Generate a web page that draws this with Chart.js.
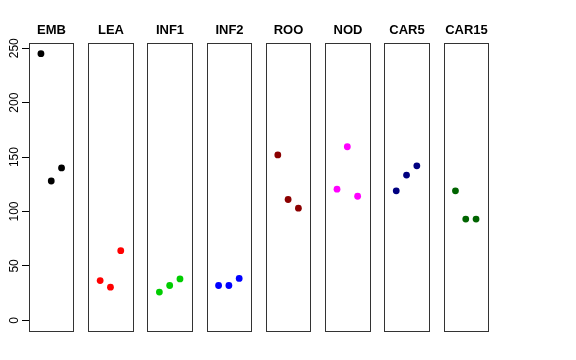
<!DOCTYPE html>
<html>
<head>
<meta charset="utf-8">
<script src="https://cdn.jsdelivr.net/npm/chart.js@4.4.1/dist/chart.umd.min.js"></script>
<style>
  html, body { margin: 0; padding: 0; background: #fff; }
  canvas { display: block; }
</style>
</head>
<body>
<canvas id="chart" width="576" height="360"></canvas>
<script>
// panel names and the three values shown in each panel
const panels = ['EMB', 'LEA', 'INF1', 'INF2', 'ROO', 'NOD', 'CAR5', 'CAR15'];
const embValues = [245, 128, 140];
const leaValues = [36.5, 30.5, 64];
const inf1Values = [26, 32, 38];
const inf2Values = [32, 32, 38.5];
const rooValues = [152, 111, 103];
const nodValues = [120.5, 159.5, 114];
const car5Values = [119, 133.5, 142];
const car15Values = [119, 93, 93];
const yTicks = [0, 50, 100, 150, 200, 250];

const panelValues = [embValues, leaValues, inf1Values, inf2Values, rooValues, nodValues, car5Values, car15Values];
const panelColors = ['#000000', '#ff0000', '#00cd00', '#0000ff', '#8b0000', '#ff00ff', '#000080', '#006400'];

// each panel spans x = -0.16 .. 4.16 (points at 1,2,3), panels repeat every PERIOD units
const PERIOD = 5.75;
const PAD = 0.16;

const datasets = panelValues.map((vals, k) => ({
  label: panels[k],
  data: vals.map((v, i) => ({ x: k * PERIOD + i + 1, y: v })),
  showLine: false,
  pointRadius: 3.4,
  pointBorderWidth: 0,
  pointBackgroundColor: panelColors[k],
  pointBorderColor: panelColors[k],
}));

const panelPlugin = {
  id: 'panels',
  afterDatasetsDraw(chart) {
    const { ctx, chartArea, scales: { x } } = chart;
    ctx.save();
    ctx.strokeStyle = '#333';
    ctx.lineWidth = 1;
    ctx.fillStyle = '#000';
    ctx.font = 'bold 13px "Liberation Sans", Arial, sans-serif';
    ctx.textAlign = 'center';
    ctx.textBaseline = 'alphabetic';
    panels.forEach((name, k) => {
      const l = Math.round(x.getPixelForValue(k * PERIOD - PAD)) + 0.5;
      const r = Math.round(x.getPixelForValue(k * PERIOD + 4 + PAD)) + 0.5;
      const t = Math.round(chartArea.top) + 0.5;
      const b = Math.round(chartArea.bottom) + 0.5;
      ctx.strokeRect(l, t, r - l, b - t);
      ctx.fillText(name, (l + r) / 2, t - 10);
    });
    ctx.restore();
  }
};

new Chart(document.getElementById('chart'), {
  type: 'scatter',
  data: { datasets },
  options: {
    responsive: false,
    animation: false,
    layout: { padding: { left: 0, top: 43, right: 88, bottom: 29 } },
    plugins: { legend: { display: false }, tooltip: { enabled: false } },
    scales: {
      x: {
        type: 'linear',
        display: false,
        min: -PAD,
        max: 7 * PERIOD + 4 + PAD,
      },
      y: {
        type: 'linear',
        position: 'left',
        min: -9.8,
        max: 254.8,
        afterFit(scale) { scale.width = 29; },
        afterBuildTicks(scale) { scale.ticks = yTicks.map(v => ({ value: v })); },
        border: { display: false },
        grid: {
          drawOnChartArea: false,
          drawTicks: true,
          tickLength: 7,
          color: '#000',
          lineWidth: 1,
        },
        ticks: {
          minRotation: 90,
          maxRotation: 90,
          crossAlign: 'center',
          padding: -3,
          color: '#000',
          font: { family: '"Liberation Sans", Arial, sans-serif', size: 12 },
        },
      },
    },
  },
  plugins: [panelPlugin],
});
</script>
</body>
</html>
